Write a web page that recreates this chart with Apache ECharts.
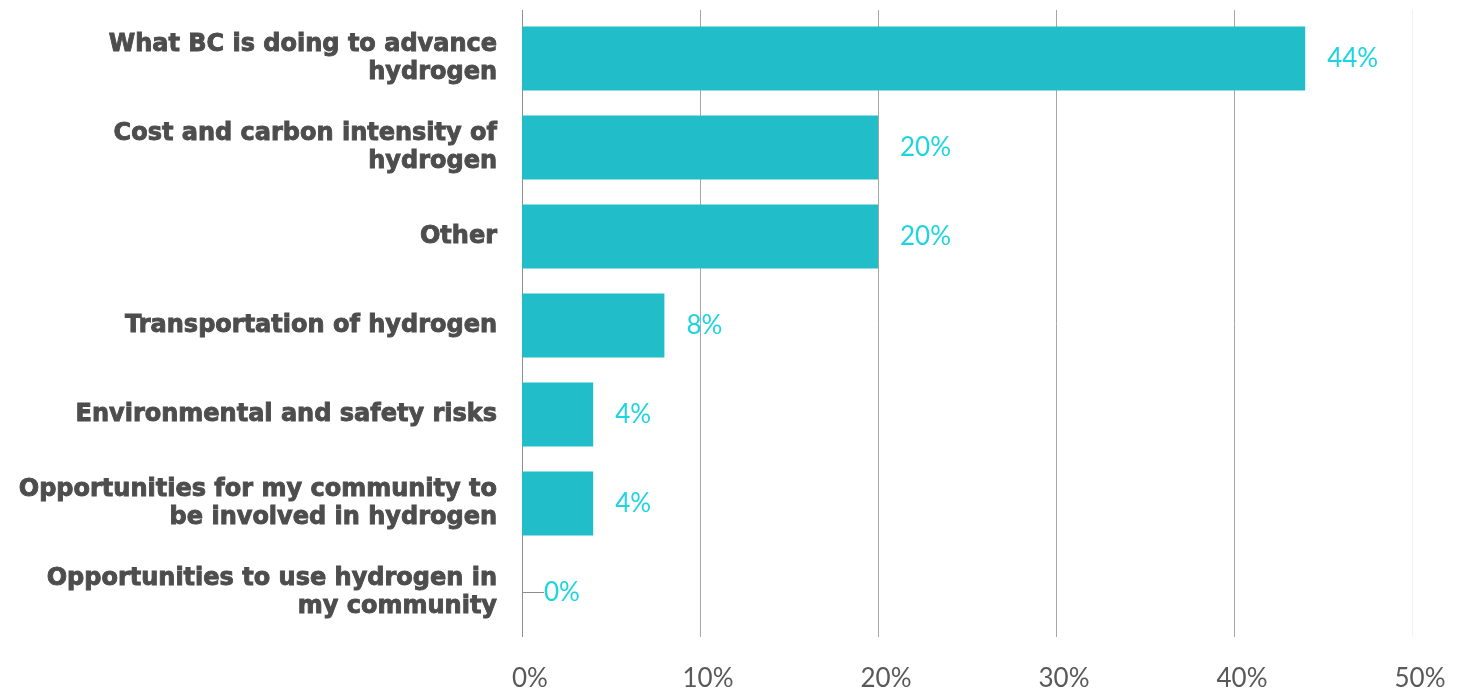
<!DOCTYPE html>
<html>
<head>
<meta charset="utf-8">
<script src="https://cdn.jsdelivr.net/npm/echarts@6/dist/echarts.min.js"></script>
<style>
  html, body { margin: 0; padding: 0; background: #ffffff; }
  #chart { width: 1465px; height: 692px; }
</style>
</head>
<body>
<div id="chart"></div>
<script>
// Survey topics and share of responses (%)
const categories = [
  'What BC is doing to advance\nhydrogen',
  'Cost and carbon intensity of\nhydrogen',
  'Other',
  'Transportation of hydrogen',
  'Environmental and safety risks',
  'Opportunities for my community to\nbe involved in hydrogen',
  'Opportunities to use hydrogen in\nmy community'
];
const shares = [44, 20, 20, 8, 4, 4, 0];
const xTicks = [0, 10, 20, 30, 40, 50];

const chart = echarts.init(document.getElementById('chart'));

// zero-value bar gets a short leader line to its label
const barData = shares.map(v => v === 0
  ? { value: v, labelLine: { show: true, lineStyle: { color: '#8c8c8c', width: 1 } } }
  : { value: v });

const xMin = xTicks[0];
const xMax = xTicks[xTicks.length - 1];

chart.setOption({
  animation: false,
  grid: [
    // bars
    { left: 522, right: 53, top: 14, bottom: 55 },
    // gridlines and tick labels, slightly taller than the bar area
    { left: 522, right: 53, top: 10, bottom: 55 }
  ],
  xAxis: [{
    type: 'value',
    gridIndex: 0,
    min: xMin,
    max: xMax,
    interval: 10,
    show: false
  }, {
    type: 'value',
    gridIndex: 1,
    min: xMin,
    max: xMax,
    interval: 10,
    axisLine: { show: false },
    axisTick: { show: false },
    axisLabel: {
      formatter: '{value}%',
      color: '#595959',
      fontFamily: 'Lato',
      fontSize: 26,
      margin: 29,
      padding: [0, 0, 0, 16]
    },
    splitLine: {
      show: true,
      lineStyle: {
        color: ['#8f8f8f', '#a6a6a6', '#a6a6a6', '#a6a6a6', '#a6a6a6', '#f3f3f3'],
        width: 1
      }
    }
  }],
  yAxis: [{
    type: 'category',
    gridIndex: 0,
    inverse: true,
    data: categories,
    axisLine: { show: false },
    axisTick: { show: false },
    axisLabel: {
      color: '#4d4d4d',
      fontFamily: 'DejaVu Sans',
      fontWeight: 'bold',
      fontSize: 24,
      lineHeight: 28,
      margin: 25,
      padding: [6, 0, 0, 0],
      align: 'right',
      textBorderColor: '#4d4d4d',
      textBorderWidth: 0.9
    }
  }, {
    type: 'value',
    gridIndex: 1,
    show: false
  }],
  series: [{
    type: 'bar',
    xAxisIndex: 0,
    yAxisIndex: 0,
    data: barData,
    barCategoryGap: '28%',
    itemStyle: { color: '#21bec9' },
    label: {
      show: true,
      position: 'right',
      distance: 0,
      formatter: '{c}%',
      color: '#1ed4e1',
      fontFamily: 'Lato',
      fontWeight: 'normal',
      fontSize: 26
    },
    labelLayout: { dx: 22 },
    labelLine: { show: false }
  }]
});
</script>
</body>
</html>
